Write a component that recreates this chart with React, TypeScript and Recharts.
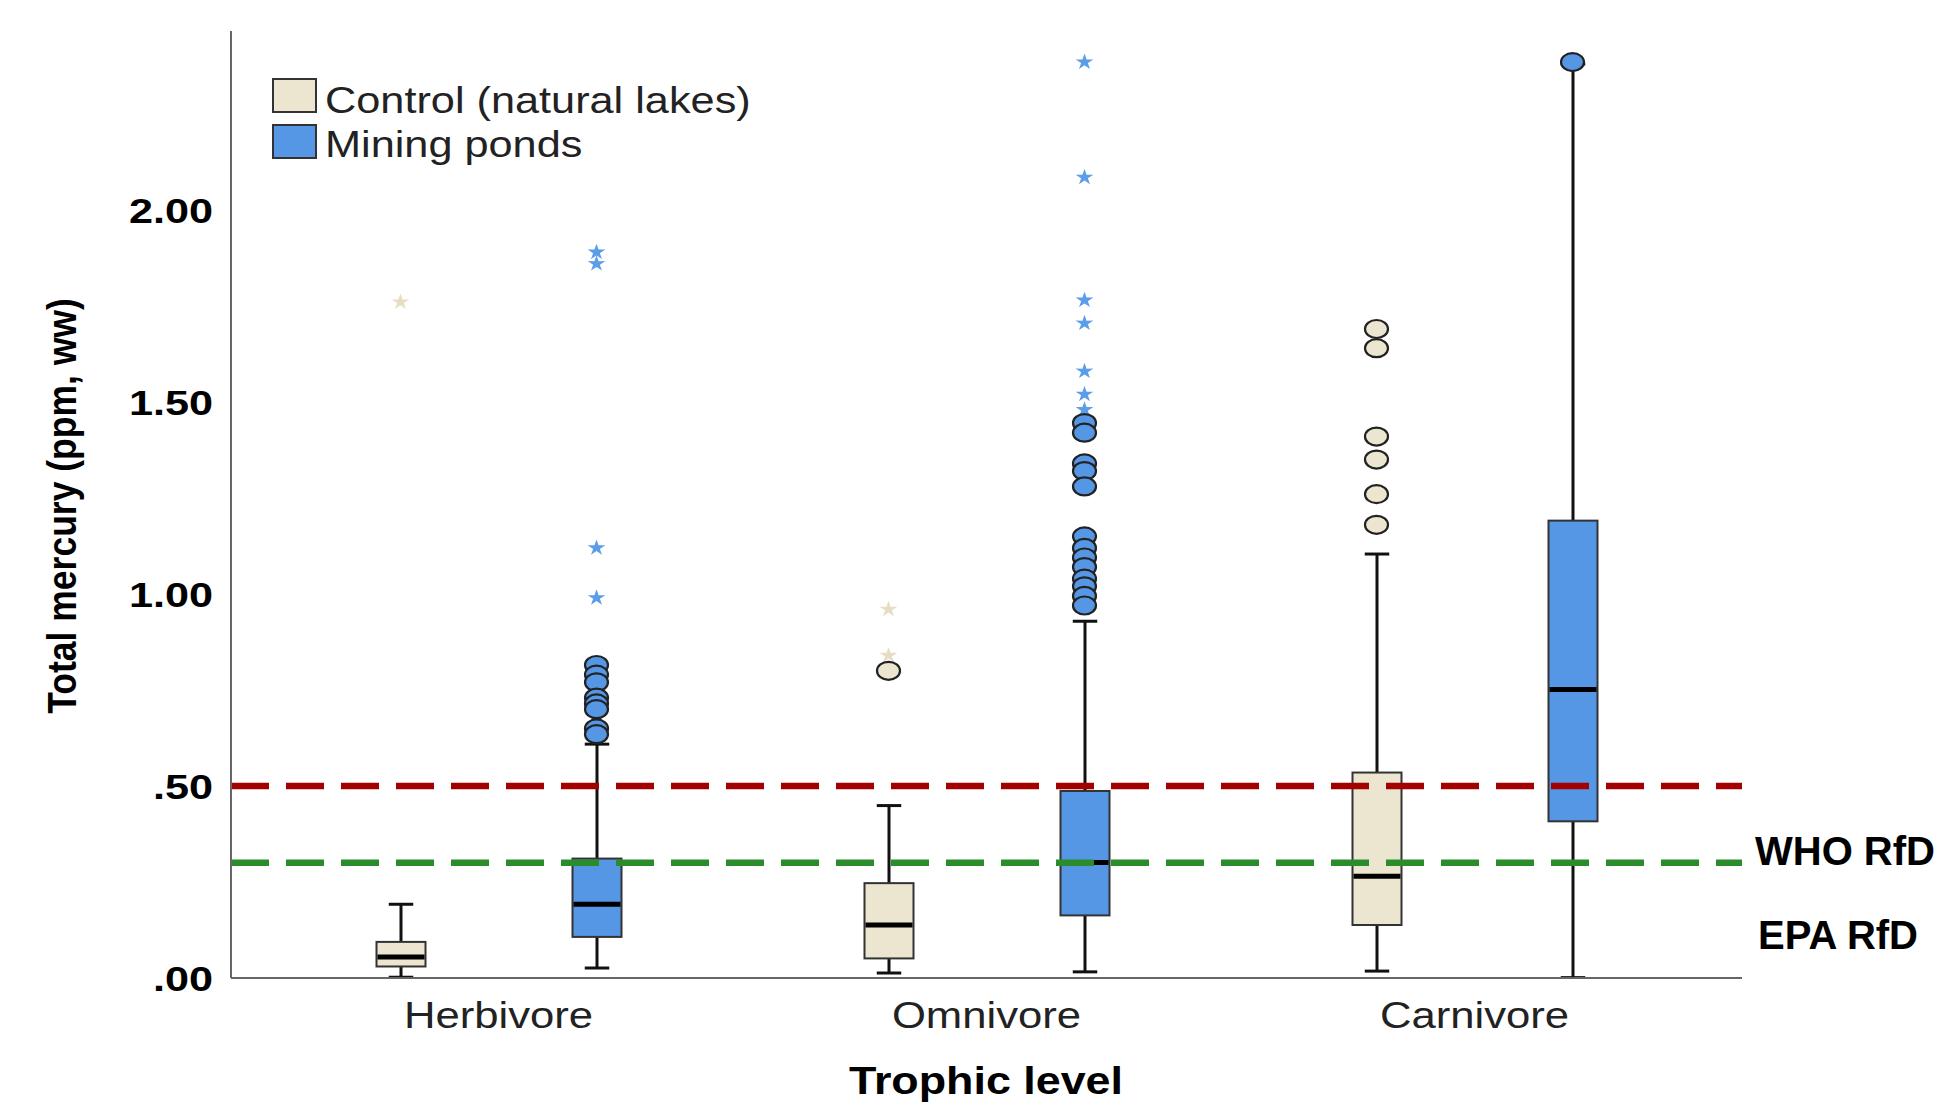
import React from "react";
import {
  ComposedChart,
  Bar,
  Scatter,
  XAxis,
  YAxis,
  ReferenceLine,
} from "recharts";

// categories on the x axis
const categories = ["Herbivore", "Omnivore", "Carnivore"];

// Control (natural lakes) box summaries, one entry per category
const controlMin = [0.002, 0.013, 0.018];
const controlQ1 = [0.03, 0.051, 0.138];
const controlMedian = [0.055, 0.138, 0.265];
const controlQ3 = [0.094, 0.247, 0.535];
const controlMax = [0.192, 0.449, 1.104];

// Mining ponds box summaries
const miningMin = [0.026, 0.016, 0.001];
const miningQ1 = [0.107, 0.163, 0.408];
const miningMedian = [0.192, 0.301, 0.751];
const miningQ3 = [0.311, 0.487, 1.191];
const miningMax = [0.609, 0.929, 2.38];

// outliers (circles) and extremes (stars), per category
const controlCircles = [[], [0.8], [1.69, 1.64, 1.41, 1.35, 1.26, 1.18]];
const controlStars = [[1.76], [0.96, 0.84], []];
const miningCircles = [
  [0.815, 0.79, 0.77, 0.73, 0.715, 0.7, 0.65, 0.635],
  [1.445, 1.42, 1.34, 1.32, 1.28, 1.15, 1.12, 1.095, 1.07, 1.04, 1.02, 0.995, 0.97],
  [2.385],
];
const miningStars = [
  [1.89, 1.86, 1.12, 0.99],
  [2.385, 2.085, 1.765, 1.705, 1.58, 1.52, 1.48],
  [],
];

// guideline values
const whoLimit = 0.5;
const epaLimit = 0.3;

const yTicks = [0, 0.5, 1, 1.5, 2];
const yTickLabels = [".00", ".50", "1.00", "1.50", "2.00"];

const CONTROL_FILL = "#ece5d0";
const MINING_FILL = "#5596e5";
const FONT = "'Liberation Sans', Arial, sans-serif";

const BOX_W = 49;
const BOX_GAP = 147;
const OFFSET = (BOX_W + BOX_GAP) / 2;

const rows = categories.map((cat, i) => ({
  cat,
  cMin: controlMin[i],
  cQ1: controlQ1[i],
  cMed: controlMedian[i],
  cQ3: controlQ3[i],
  cMax: controlMax[i],
  cBase: controlQ1[i],
  cBox: controlQ3[i] - controlQ1[i],
  mMin: miningMin[i],
  mQ1: miningQ1[i],
  mMed: miningMedian[i],
  mQ3: miningQ3[i],
  mMax: miningMax[i],
  mBase: miningQ1[i],
  mBox: miningQ3[i] - miningQ1[i],
}));

const toPoints = (lists: number[][]) =>
  lists.flatMap((vals, i) => vals.map((v) => ({ cat: categories[i], v })));

// box + whiskers drawn from the stacked bar segment (q1..q3)
function BoxShape(props: any) {
  const { x, y, width, height, payload, prefix, fill } = props;
  const q1 = payload[prefix + "Q1"];
  const q3 = payload[prefix + "Q3"];
  const ppu = height / (q3 - q1);
  const cx = x + width / 2;
  const yMax = y - (payload[prefix + "Max"] - q3) * ppu;
  const yMin = y + height + (q1 - payload[prefix + "Min"]) * ppu;
  const yMed = y + (q3 - payload[prefix + "Med"]) * ppu;
  const cap = width / 4;
  return (
    <g>
      <line x1={cx} x2={cx} y1={yMax} y2={y} stroke="#111" strokeWidth={3} />
      <line x1={cx} x2={cx} y1={y + height} y2={yMin} stroke="#111" strokeWidth={3} />
      <line x1={cx - cap} x2={cx + cap} y1={yMax} y2={yMax} stroke="#111" strokeWidth={3} />
      <line x1={cx - cap} x2={cx + cap} y1={yMin} y2={yMin} stroke="#111" strokeWidth={3} />
      <rect x={x} y={y} width={width} height={height} fill={fill} stroke="#333" strokeWidth={2} />
      <line x1={x + 1} x2={x + width - 1} y1={yMed} y2={yMed} stroke="#000" strokeWidth={5} />
    </g>
  );
}

function CircleShape(props: any) {
  const { cx, cy, dx, fill } = props;
  return (
    <ellipse cx={cx + dx} cy={cy} rx={11.5} ry={9} fill={fill} stroke="#222" strokeWidth={2.2} />
  );
}

function StarShape(props: any) {
  const { cx, cy, dx, fill } = props;
  const pts: string[] = [];
  for (let k = 0; k < 10; k++) {
    const r = k % 2 === 0 ? 8.5 : 3.2;
    const a = -Math.PI / 2 + (k * Math.PI) / 5;
    pts.push(`${cx + dx + r * Math.cos(a) * 1.1},${cy + r * Math.sin(a)}`);
  }
  return <polygon points={pts.join(" ")} fill={fill} />;
}

function XTick(props: any) {
  const { x, y, payload } = props;
  return (
    <text
      transform={`translate(${x},${y + 48}) scale(1.18,1)`}
      textAnchor="middle"
      fontFamily={FONT}
      fontSize={37}
      fill="#222"
    >
      {payload.value}
    </text>
  );
}

function YTick(props: any) {
  const { x, y, payload } = props;
  const label = yTickLabels[yTicks.indexOf(payload.value)];
  return (
    <text
      transform={`translate(${x},${y + 13}) scale(1.2,1)`}
      textAnchor="end"
      fontFamily={FONT}
      fontSize={36}
      fontWeight="bold"
      fill="#000"
    >
      {label}
    </text>
  );
}

export default function App() {
  return (
    <div
      style={{
        position: "absolute",
        left: 0,
        top: 0,
        width: 1941,
        height: 1106,
        background: "#fff",
        overflow: "hidden",
      }}
    >
      <ComposedChart
        width={1941}
        height={1106}
        data={rows}
        margin={{ top: 31, right: 199, bottom: 0, left: 0 }}
        barSize={BOX_W}
        barGap={BOX_GAP}
      >
        <XAxis
          dataKey="cat"
          type="category"
          allowDuplicatedCategory={false}
          padding={{ left: 23.5, right: 23.5 }}
          height={128}
          tickLine={false}
          tickSize={0}
          interval={0}
          axisLine={{ stroke: "#666", strokeWidth: 2 }}
          tick={<XTick />}
        />
        <YAxis
          type="number"
          domain={[0, 2.466]}
          ticks={yTicks}
          allowDataOverflow
          width={231}
          tickLine={false}
          tickSize={0}
          tickMargin={18}
          axisLine={{ stroke: "#666", strokeWidth: 2 }}
          tick={<YTick />}
        />
        <Bar dataKey="cBase" stackId="c" fill="none" isAnimationActive={false} />
        <Bar
          dataKey="cBox"
          stackId="c"
          isAnimationActive={false}
          shape={(p: any) => <BoxShape {...p} prefix="c" fill={CONTROL_FILL} />}
        />
        <Bar dataKey="mBase" stackId="m" fill="none" isAnimationActive={false} />
        <Bar
          dataKey="mBox"
          stackId="m"
          isAnimationActive={false}
          shape={(p: any) => <BoxShape {...p} prefix="m" fill={MINING_FILL} />}
        />
        <ReferenceLine y={whoLimit} stroke="#a30000" strokeWidth={6.5} strokeDasharray="38 17" />
        <ReferenceLine y={epaLimit} stroke="#2b8c2b" strokeWidth={6.5} strokeDasharray="38 17" />
        <Scatter
          data={toPoints(controlStars)}
          dataKey="v"
          isAnimationActive={false}
          shape={(p: any) => <StarShape {...p} dx={-OFFSET} fill="#e6ddc3" />}
        />
        <Scatter
          data={toPoints(controlCircles)}
          dataKey="v"
          isAnimationActive={false}
          shape={(p: any) => <CircleShape {...p} dx={-OFFSET} fill={CONTROL_FILL} />}
        />
        <Scatter
          data={toPoints(miningStars)}
          dataKey="v"
          isAnimationActive={false}
          shape={(p: any) => <StarShape {...p} dx={OFFSET} fill="#5c9de9" />}
        />
        <Scatter
          data={toPoints(miningCircles)}
          dataKey="v"
          isAnimationActive={false}
          shape={(p: any) => <CircleShape {...p} dx={OFFSET} fill={MINING_FILL} />}
        />
      </ComposedChart>

      <svg
        width={1941}
        height={1106}
        style={{ position: "absolute", left: 0, top: 0, pointerEvents: "none" }}
      >
        {/* legend */}
        <rect x={273} y={79} width={43} height={33} fill={CONTROL_FILL} stroke="#333" strokeWidth={2} />
        <rect x={273} y={125} width={43} height={33} fill={MINING_FILL} stroke="#333" strokeWidth={2} />
        <text transform="translate(325,113) scale(1.17,1)" fontFamily={FONT} fontSize={37} fill="#222">
          Control (natural lakes)
        </text>
        <text transform="translate(325,157) scale(1.17,1)" fontFamily={FONT} fontSize={37} fill="#222">
          Mining ponds
        </text>

        {/* axis titles */}
        <text
          transform="translate(76,506) scale(1.17,1) rotate(-90)"
          textAnchor="middle"
          fontFamily={FONT}
          fontSize={35.5}
          fontWeight="bold"
          fill="#000"
        >
          Total mercury (ppm, ww)
        </text>
        <text
          transform="translate(986,1094) scale(1.18,1)"
          textAnchor="middle"
          fontFamily={FONT}
          fontSize={38}
          fontWeight="bold"
          fill="#000"
        >
          Trophic level
        </text>

        {/* guideline labels */}
        <text x={1755} y={865} fontFamily={FONT} fontSize={40} fontWeight="bold" fill="#000">
          WHO RfD
        </text>
        <text x={1758} y={949} fontFamily={FONT} fontSize={40} fontWeight="bold" fill="#000">
          EPA RfD
        </text>
      </svg>
    </div>
  );
}
